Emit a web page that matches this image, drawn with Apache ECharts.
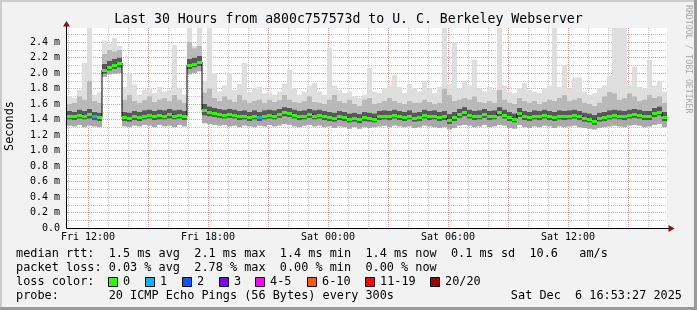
<!DOCTYPE html>
<html><head><meta charset="utf-8">
<script src="https://cdn.jsdelivr.net/npm/echarts@6/dist/echarts.min.js"></script>
<style>html,body{margin:0;padding:0;background:#f2f2f2;}#c{width:697px;height:310px;}</style>
</head><body><div id="c"></div>
<script>
// ---- time frame (hours since Fri 00:00), one column per 15 minutes ----
const startH = 10.95;
const endH = 40.95;
const stepH = 0.25;
const yMax = 2.58;

// ---- tick labels ----
const xTickHours = [12, 18, 24, 30, 36];
const xTickLabels = ['Fri 12:00', 'Fri 18:00', 'Sat 00:00', 'Sat 06:00', 'Sat 12:00'];
const yTicks = [0, 0.2, 0.4, 0.6, 0.8, 1.0, 1.2, 1.4, 1.6, 1.8, 2.0, 2.2, 2.4];
const yTickLabels = ['0.0', '0.2 m', '0.4 m', '0.6 m', '0.8 m', '1.0 m', '1.2 m', '1.4 m', '1.6 m', '1.8 m', '2.0 m', '2.2 m', '2.4 m'];

// ---- median rtt (ms) ----
const med = [
1.45,1.44,1.46,1.45,1.47,1.44,1.43,2.04,2.08,2.10,
2.13,1.43,1.42,1.44,1.43,1.45,1.46,1.44,1.46,1.45,
1.47,1.45,1.46,1.44,2.10,2.12,2.14,1.52,1.50,1.48,
1.47,1.46,1.47,1.46,1.44,1.45,1.43,1.45,1.43,1.45,
1.46,1.45,1.47,1.49,1.48,1.46,1.44,1.45,1.47,1.45,
1.46,1.44,1.43,1.42,1.44,1.43,1.41,1.42,1.40,1.43,
1.42,1.41,1.44,1.45,1.44,1.46,1.44,1.43,1.45,1.42,
1.43,1.46,1.44,1.45,1.43,1.44,1.39,1.43,1.47,1.49,
1.46,1.44,1.45,1.47,1.44,1.45,1.49,1.46,1.43,1.41,
1.48,1.44,1.43,1.45,1.44,1.46,1.44,1.43,1.45,1.44,
1.45,1.46,1.44,1.42,1.41,1.38,1.42,1.43,1.45,1.46,
1.45,1.44,1.46,1.47,1.46,1.44,1.44,1.48,1.50,1.43];
// ---- smoke: lowest ping ----
const lo = [
1.32,1.31,1.33,1.30,1.32,1.31,1.30,1.95,1.98,1.99,
2.00,1.31,1.30,1.32,1.31,1.33,1.32,1.30,1.33,1.31,
1.32,1.30,1.33,1.31,1.98,2.00,2.02,1.35,1.34,1.33,
1.32,1.33,1.31,1.32,1.30,1.32,1.31,1.30,1.32,1.31,
1.33,1.31,1.32,1.34,1.33,1.31,1.30,1.32,1.33,1.31,
1.32,1.30,1.31,1.29,1.31,1.30,1.28,1.30,1.28,1.30,
1.29,1.30,1.31,1.32,1.30,1.32,1.31,1.30,1.31,1.29,
1.30,1.32,1.31,1.30,1.29,1.30,1.27,1.29,1.32,1.33,
1.32,1.30,1.31,1.33,1.30,1.31,1.33,1.32,1.29,1.28,
1.33,1.30,1.29,1.31,1.30,1.32,1.31,1.29,1.31,1.30,
1.31,1.32,1.30,1.29,1.28,1.27,1.29,1.30,1.31,1.32,
1.31,1.30,1.32,1.33,1.32,1.30,1.31,1.33,1.34,1.30];
// ---- smoke: lower core ----
const q1 = [
1.40,1.39,1.41,1.40,1.41,1.39,1.38,1.99,2.03,2.05,
2.07,1.38,1.37,1.39,1.38,1.40,1.41,1.39,1.40,1.40,
1.41,1.40,1.41,1.39,2.05,2.07,2.09,1.45,1.44,1.43,
1.42,1.41,1.42,1.41,1.39,1.40,1.38,1.40,1.38,1.40,
1.41,1.40,1.42,1.44,1.43,1.41,1.39,1.40,1.42,1.40,
1.41,1.39,1.38,1.37,1.39,1.38,1.36,1.37,1.35,1.38,
1.37,1.36,1.39,1.40,1.39,1.41,1.39,1.38,1.40,1.37,
1.38,1.41,1.39,1.40,1.38,1.39,1.34,1.38,1.42,1.44,
1.41,1.39,1.40,1.42,1.39,1.40,1.44,1.41,1.38,1.36,
1.43,1.39,1.38,1.40,1.39,1.41,1.39,1.38,1.40,1.39,
1.40,1.41,1.39,1.37,1.36,1.33,1.37,1.38,1.40,1.41,
1.40,1.39,1.41,1.42,1.41,1.39,1.39,1.43,1.45,1.38];
// ---- smoke: upper core ----
const q3 = [
1.51,1.50,1.53,1.51,1.54,1.50,1.49,2.12,2.16,2.18,
2.20,1.50,1.49,1.51,1.50,1.52,1.53,1.51,1.53,1.52,
1.54,1.52,1.53,1.51,2.18,2.20,2.22,1.60,1.57,1.55,
1.54,1.53,1.54,1.53,1.51,1.52,1.50,1.52,1.50,1.52,
1.53,1.52,1.54,1.56,1.55,1.53,1.51,1.52,1.54,1.52,
1.53,1.51,1.50,1.49,1.51,1.50,1.48,1.49,1.47,1.50,
1.49,1.48,1.51,1.52,1.51,1.53,1.51,1.50,1.52,1.49,
1.50,1.53,1.51,1.52,1.50,1.51,1.47,1.50,1.54,1.56,
1.53,1.51,1.52,1.54,1.51,1.52,1.56,1.53,1.50,1.48,
1.55,1.51,1.50,1.52,1.51,1.53,1.51,1.50,1.52,1.51,
1.52,1.53,1.51,1.49,1.48,1.46,1.49,1.50,1.52,1.53,
1.52,1.51,1.53,1.54,1.53,1.51,1.51,1.55,1.57,1.50];
// ---- smoke: 90th percentile ----
const p90 = [
1.60,1.62,1.70,1.66,1.90,1.64,1.62,2.25,2.30,2.28,
2.30,1.66,1.72,1.64,1.62,1.65,1.70,1.63,1.66,1.68,
1.64,1.72,1.66,1.62,2.40,2.32,2.35,1.75,1.80,1.68,
1.64,1.70,1.66,1.63,1.72,1.65,1.62,1.64,1.66,1.62,
1.66,1.63,1.65,1.72,1.66,1.63,1.62,1.64,1.70,1.63,
1.62,1.60,1.66,1.72,1.64,1.62,1.66,1.60,1.58,1.66,
1.68,1.60,1.62,1.64,1.68,1.64,1.62,1.60,1.64,1.62,
1.62,1.66,1.63,1.60,1.62,1.80,1.72,1.64,1.66,1.68,
1.66,1.70,1.63,1.62,1.64,1.62,1.78,1.66,1.62,1.60,
1.68,1.64,1.62,1.64,1.60,1.63,1.66,1.64,1.68,1.72,
1.64,1.66,1.68,1.62,1.60,1.58,1.62,1.70,1.76,1.74,
1.66,1.68,1.74,1.70,1.64,1.66,1.72,1.68,1.70,1.62];
// ---- smoke: highest ping ----
const mx = [
1.70,1.68,1.78,2.13,2.70,1.72,1.75,2.42,2.38,2.45,
2.35,1.82,2.00,1.85,1.72,1.78,1.80,1.74,1.82,1.76,
1.78,2.36,1.80,1.72,2.70,2.35,2.70,1.90,2.70,2.00,
1.76,1.84,2.00,1.78,1.86,2.13,1.75,1.80,1.82,1.74,
1.75,1.72,1.76,1.86,2.04,1.80,1.72,1.76,1.84,1.87,
1.76,1.72,2.32,1.84,1.78,1.74,1.76,1.70,1.68,1.72,
2.06,1.76,1.74,1.80,1.84,1.97,1.82,1.74,1.86,1.80,
1.76,1.90,1.80,1.74,1.82,2.70,1.86,2.39,1.80,1.90,
1.84,2.17,1.80,1.76,1.82,1.78,2.70,1.84,1.76,1.74,
1.80,1.87,1.78,1.76,1.74,1.80,1.84,2.70,1.82,2.10,
1.80,1.94,1.94,1.76,1.72,1.74,1.80,1.84,1.97,2.70,
2.70,2.70,1.84,2.08,1.82,1.80,2.17,1.84,1.90,1.76];
// ---- packet loss (column index -> lost pings) ----
const lossIdx = [5, 38];
const lossVal = [1, 1];

// ---- legend ----
const lossLabels = ['0', '1', '2', '3', '4-5', '6-10', '11-19', '20/20'];
const lossColors = ['#26ff00', '#00b8ff', '#0059ff', '#7e00ff', '#ff00ff', '#ff5a00', '#ff0000', '#a00000'];
const legendLine1 = 'median rtt:  1.5 ms avg  2.1 ms max  1.4 ms min  1.4 ms now  0.1 ms sd  10.6   am/s';
const legendLine2 = 'packet loss: 0.03 % avg  2.78 % max  0.00 % min  0.00 % now';
const legendLine3 = 'loss color:';
const legendLine4 = 'probe:       20 ICMP Echo Pings (56 Bytes) every 300s';
const dateText = 'Sat Dec  6 16:53:27 2025';
const titleText = 'Last 30 Hours from a800c757573d to U. C. Berkeley Webserver';

const MONO = '"DejaVu Sans Mono", monospace';
const smokeColors = ['#a9a9a9', '#585858', '#b9b9b9', '#dedede'];
const MGRID = 'rgba(222,79,79,0.55)';
const GRID = 'rgba(143,143,143,0.5)';

function lossOf(i) { const k = lossIdx.indexOf(i); return k < 0 ? 0 : lossVal[k]; }

const smokeData = med.map((m, i) => [startH + i * stepH, lo[i], q1[i], q3[i], p90[i], mx[i]]);
const medLine = med.map((m, i) => [startH + i * stepH + stepH / 2, m]);
const medBars = med.map((m, i) => [startH + i * stepH, m, lossOf(i)]);

const vGrid = [];
for (let h = Math.ceil(startH); h <= Math.floor(endH); h++) vGrid.push([h, 0]);
const hGrid = [];
for (let k = 1; k <= 25; k++) hGrid.push([startH, k / 10]);

const chart = echarts.init(document.getElementById('c'), null, { renderer: 'canvas' });

const option = {
  animation: false,
  backgroundColor: '#f2f2f2',
  grid: { left: 67, right: 30, top: 28, bottom: 82, show: true, backgroundColor: '#ffffff', borderWidth: 0 },
  xAxis: {
    type: 'value', min: startH, max: endH,
    axisLine: { show: false }, axisTick: { show: false }, splitLine: { show: false },
    axisLabel: {
      customValues: xTickHours, margin: 4, color: '#000', fontFamily: MONO, fontSize: 10,
      formatter: v => { const k = xTickHours.findIndex(h => Math.abs(h - v) < 1e-6); return k < 0 ? '' : xTickLabels[k]; }
    }
  },
  yAxis: {
    type: 'value', min: 0, max: yMax, interval: 0.2,
    axisLine: { show: false }, axisTick: { show: false }, splitLine: { show: false },
    axisLabel: {
      margin: 7, color: '#000', fontFamily: MONO, fontSize: 10,
      formatter: v => { const k = yTicks.findIndex(t => Math.abs(t - v) < 1e-6); return k < 0 ? '' : yTickLabels[k]; }
    }
  },
  series: [
    {
      type: 'custom', name: 'vgrid', silent: true, z: 1, data: vGrid, encode: { x: 0, y: 1 },
      renderItem: (params, api) => {
        const cs = params.coordSys; const h = api.value(0);
        const x = Math.round(api.coord([h, 0])[0]) + 0.5;
        return { type: 'line', shape: { x1: x, y1: cs.y, x2: x, y2: cs.y + cs.height },
          style: { stroke: (h % 3 === 0) ? MGRID : GRID, lineWidth: 1, lineDash: [1, 1] } };
      }
    },
    {
      type: 'custom', name: 'hgrid', silent: true, z: 1, data: hGrid, encode: { x: 0, y: 1 },
      renderItem: (params, api) => {
        const cs = params.coordSys; const v = api.value(1);
        const y = Math.round(api.coord([startH, v])[1]) + 0.5;
        const major = Math.round(v * 10) % 2 === 0;
        return { type: 'line', shape: { x1: cs.x, y1: y, x2: cs.x + cs.width, y2: y },
          style: { stroke: major ? MGRID : GRID, lineWidth: 1, lineDash: [1, 1] } };
      }
    },
    {
      type: 'custom', name: 'smoke', silent: true, z: 2, data: smokeData, encode: { x: 0, y: [1, 2, 3, 4, 5] },
      renderItem: (params, api) => {
        const cs = params.coordSys; const t = api.value(0);
        const x0 = Math.round(api.coord([t, 0])[0]);
        const x1 = Math.round(api.coord([t + stepH, 0])[0]);
        const ys = [1, 2, 3, 4, 5].map(k => Math.max(cs.y, api.coord([t, api.value(k)])[1]));
        const children = [];
        for (let k = 0; k < 4; k++) {
          const top = ys[k + 1], bot = ys[k];
          if (bot - top > 0) children.push({ type: 'rect', shape: { x: x0, y: top, width: x1 - x0, height: bot - top }, style: { fill: smokeColors[k] } });
        }
        return { type: 'group', children };
      }
    },
    {
      type: 'line', name: 'median', data: medLine, step: 'middle', symbol: 'none', z: 3,
      lineStyle: { color: '#000', width: 1 }, silent: true
    },
    {
      type: 'custom', name: 'loss', silent: true, z: 4, data: medBars, encode: { x: 0, y: 1 },
      renderItem: (params, api) => {
        const t = api.value(0);
        const p0 = api.coord([t, api.value(1)]);
        const x1 = Math.round(api.coord([t + stepH, 0])[0]);
        const x0 = Math.round(p0[0]);
        return { type: 'rect', shape: { x: x0, y: Math.round(p0[1]) - 1, width: x1 - x0, height: 3 },
          style: { fill: lossColors[api.value(2)] } };
      }
    }
  ]
};
chart.setOption(option);

// axes with arrows, frame and texts
const o = chart.convertToPixel({ gridIndex: 0 }, [startH, 0]);
const e = chart.convertToPixel({ gridIndex: 0 }, [endH, yMax]);
const ax = Math.round(o[0]) - 0.5, ay = Math.round(o[1]) + 0.5;
const AR = '#8b1010';
const g = [
  { type: 'rect', shape: { x: 0, y: 0, width: 697, height: 2 }, style: { fill: '#cbcbcb' }, z: 100 },
  { type: 'rect', shape: { x: 0, y: 0, width: 2, height: 310 }, style: { fill: '#cbcbcb' }, z: 100 },
  { type: 'rect', shape: { x: 694, y: 0, width: 3, height: 310 }, style: { fill: '#999999' }, z: 100 },
  { type: 'rect', shape: { x: 0, y: 307, width: 697, height: 3 }, style: { fill: '#999999' }, z: 100 },
  { type: 'line', shape: { x1: ax, y1: ay, x2: ax, y2: e[1] - 5 }, style: { stroke: '#000', lineWidth: 1 }, z: 50 },
  { type: 'line', shape: { x1: ax, y1: ay, x2: e[0] + 4, y2: ay }, style: { stroke: '#000', lineWidth: 1 }, z: 50 },
  { type: 'polygon', shape: { points: [[ax - 3.5, e[1] - 1.5], [ax + 3.5, e[1] - 1.5], [ax, e[1] - 7]] }, style: { fill: AR }, z: 51 },
  { type: 'polygon', shape: { points: [[e[0] + 1.5, ay - 3.5], [e[0] + 1.5, ay + 3.5], [e[0] + 7.5, ay]] }, style: { fill: AR }, z: 51 },
  { type: 'text', x: 348.5, y: 19.5, style: { text: titleText, font: '13.2px ' + MONO, fill: '#000', align: 'center', verticalAlign: 'middle' }, z: 60 },
  { type: 'text', x: 10, y: 126, rotation: Math.PI / 2, style: { text: 'Seconds', font: '11.85px ' + MONO, fill: '#000', align: 'center', verticalAlign: 'middle' }, z: 60 },
  { type: 'text', x: 688, y: 5, rotation: -Math.PI / 2, style: { text: 'RRDTOOL / TOBI OETIKER', font: '8.2px ' + MONO, fill: '#a8a8a8', align: 'left', verticalAlign: 'middle' }, z: 60 },
  { type: 'text', x: 16, y: 254, style: { text: legendLine1, font: '11.85px ' + MONO, fill: '#000', align: 'left', verticalAlign: 'middle' }, z: 60 },
  { type: 'text', x: 16, y: 268, style: { text: legendLine2, font: '11.85px ' + MONO, fill: '#000', align: 'left', verticalAlign: 'middle' }, z: 60 },
  { type: 'text', x: 16, y: 282, style: { text: legendLine3, font: '11.85px ' + MONO, fill: '#000', align: 'left', verticalAlign: 'middle' }, z: 60 },
  { type: 'text', x: 16, y: 296, style: { text: legendLine4, font: '11.85px ' + MONO, fill: '#000', align: 'left', verticalAlign: 'middle' }, z: 60 },
  { type: 'text', x: 682, y: 296, style: { text: dateText, font: '11.85px ' + MONO, fill: '#000', align: 'right', verticalAlign: 'middle' }, z: 60 }
];
const swX = [108.5, 145.5, 182.5, 219.5, 255.5, 307.5, 365.5, 430.5];
lossLabels.forEach((lab, k) => {
  g.push({ type: 'rect', shape: { x: swX[k], y: 277.5, width: 9, height: 9 }, style: { fill: lossColors[k], stroke: '#000', lineWidth: 1 }, z: 60 });
  g.push({ type: 'text', x: swX[k] + 14.5, y: 282, style: { text: lab, font: '11.85px ' + MONO, fill: '#000', align: 'left', verticalAlign: 'middle' }, z: 60 });
});
chart.setOption({ graphic: g });
</script>
</body></html>
